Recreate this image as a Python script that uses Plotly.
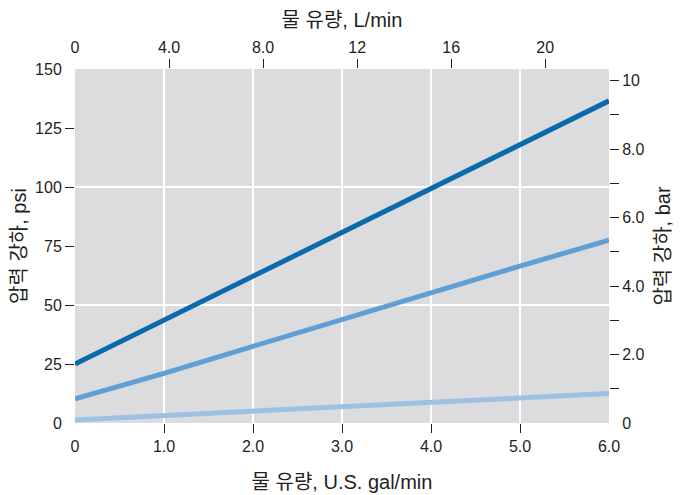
import plotly.graph_objects as go

# Data (U.S. gal/min vs pressure drop in psi)
flow_gpm = [0, 1.0, 2.0, 3.0, 4.0, 5.0, 6.0]
series_dark = [25.0, 43.6, 62.2, 80.8, 99.4, 118.0, 136.5]
series_mid = [10.2, 21.0, 32.5, 44.0, 55.5, 66.5, 77.5]
series_light = [1.3, 3.2, 5.0, 6.8, 8.7, 10.6, 12.5]

GAL_TO_L = 3.78541
PSI_PER_BAR = 14.5038
x_max = 6.0
psi_max = 150

bottom_ticks = [1, 2, 3, 4, 5]
bottom_text = ["1.0", "2.0", "3.0", "4.0", "5.0"]
bottom_edge_ticks = [0, 6]
bottom_edge_text = ["0", "6.0"]
top_ticks = [4, 8, 12, 16, 20]
top_text = ["4.0", "8.0", "12", "16", "20"]
left_ticks = [25, 50, 75, 100, 125]
left_text = ["25", "50", "75", "100", "125"]
left_edge_ticks = [0, 150]
left_edge_text = ["0", "150"]
right_ticks = [1, 2, 3, 4, 5, 6, 7, 8, 9, 10]
right_text = ["", "2.0", "", "4.0", "", "6.0", "", "8.0", "", "10"]
grid_psi = [50, 100]

FONT = "Liberation Sans, Arial, Noto Sans CJK KR, sans-serif"
TXT = "#231f20"
TICKFONT = dict(family=FONT, size=16, color=TXT)
TITLEFONT = dict(family=FONT, size=20, color=TXT)
TICKLEN = 9

fig = go.Figure()
fig.add_trace(go.Scatter(x=flow_gpm, y=series_light, mode="lines",
                         line=dict(color="#9ec0e2", width=5), showlegend=False))
fig.add_trace(go.Scatter(x=flow_gpm, y=series_mid, mode="lines",
                         line=dict(color="#5f9fd6", width=5), showlegend=False))
fig.add_trace(go.Scatter(x=flow_gpm, y=series_dark, mode="lines",
                         line=dict(color="#0a6aad", width=5), showlegend=False))

# dummy traces to activate overlay axes
for xa, ya in [("x2", "y"), ("x3", "y"), ("x4", "y"), ("x", "y2"), ("x", "y3"), ("x", "y4"), ("x", "y5")]:
    fig.add_trace(go.Scatter(x=[None], y=[None], xaxis=xa, yaxis=ya,
                             showlegend=False, hoverinfo="skip"))

common = dict(showline=False, zeroline=False, ticks="outside", ticklen=TICKLEN,
              tickwidth=1.2, tickcolor=TXT, tickfont=TICKFONT, tickmode="array",
              automargin=False)
hidden_tick = dict(showline=False, zeroline=False, ticks="outside", ticklen=TICKLEN,
                   tickcolor="rgba(0,0,0,0)", tickfont=TICKFONT, tickmode="array",
                   showgrid=False, automargin=False)

fig.update_layout(
    width=695, height=495,
    margin=dict(l=67, r=94, t=61, b=80),
    paper_bgcolor="white",
    plot_bgcolor="#dcdcde",
    xaxis=dict(range=[0, x_max], tickvals=bottom_ticks, ticktext=bottom_text,
               showgrid=True, gridcolor="white", gridwidth=1.5,
               title=dict(text="물 유량, U.S. gal/min", font=TITLEFONT, standoff=20),
               **common),
    xaxis2=dict(range=[0, x_max * GAL_TO_L], tickvals=top_ticks, ticktext=top_text,
                overlaying="x", side="top", showgrid=False, anchor="y",
                title=dict(text="물 유량, L/min", font=TITLEFONT, standoff=5),
                **common),
    xaxis3=dict(range=[0, x_max], tickvals=bottom_edge_ticks, ticktext=bottom_edge_text,
                overlaying="x", side="bottom", anchor="y", **hidden_tick),
    xaxis4=dict(range=[0, x_max * GAL_TO_L], tickvals=[0], ticktext=["0"],
                overlaying="x", side="top", anchor="y", **hidden_tick),
    yaxis=dict(range=[0, psi_max], tickvals=left_ticks, ticktext=left_text,
               showgrid=False,
               title=dict(text="압력 강하, psi", font=TITLEFONT, standoff=3),
               **common),
    yaxis2=dict(range=[0, psi_max / PSI_PER_BAR], tickvals=right_ticks, ticktext=right_text,
                overlaying="y", side="right", showgrid=False, anchor="x",
                title=dict(text="압력 강하, bar", font=TITLEFONT, standoff=12),
                **common),
    yaxis3=dict(range=[0, psi_max], tickvals=left_edge_ticks, ticktext=left_edge_text,
                overlaying="y", side="left", anchor="x", **hidden_tick),
    yaxis4=dict(range=[0, psi_max / PSI_PER_BAR], tickvals=[0], ticktext=["0"],
                overlaying="y", side="right", anchor="x", **hidden_tick),
    yaxis5=dict(range=[0, psi_max], tickvals=grid_psi, ticktext=["", ""],
                overlaying="y", side="left", anchor="x", showgrid=True,
                gridcolor="white", gridwidth=1.5, ticks="", showline=False,
                zeroline=False, showticklabels=False, automargin=False),
)

fig.write_html("out.html")
